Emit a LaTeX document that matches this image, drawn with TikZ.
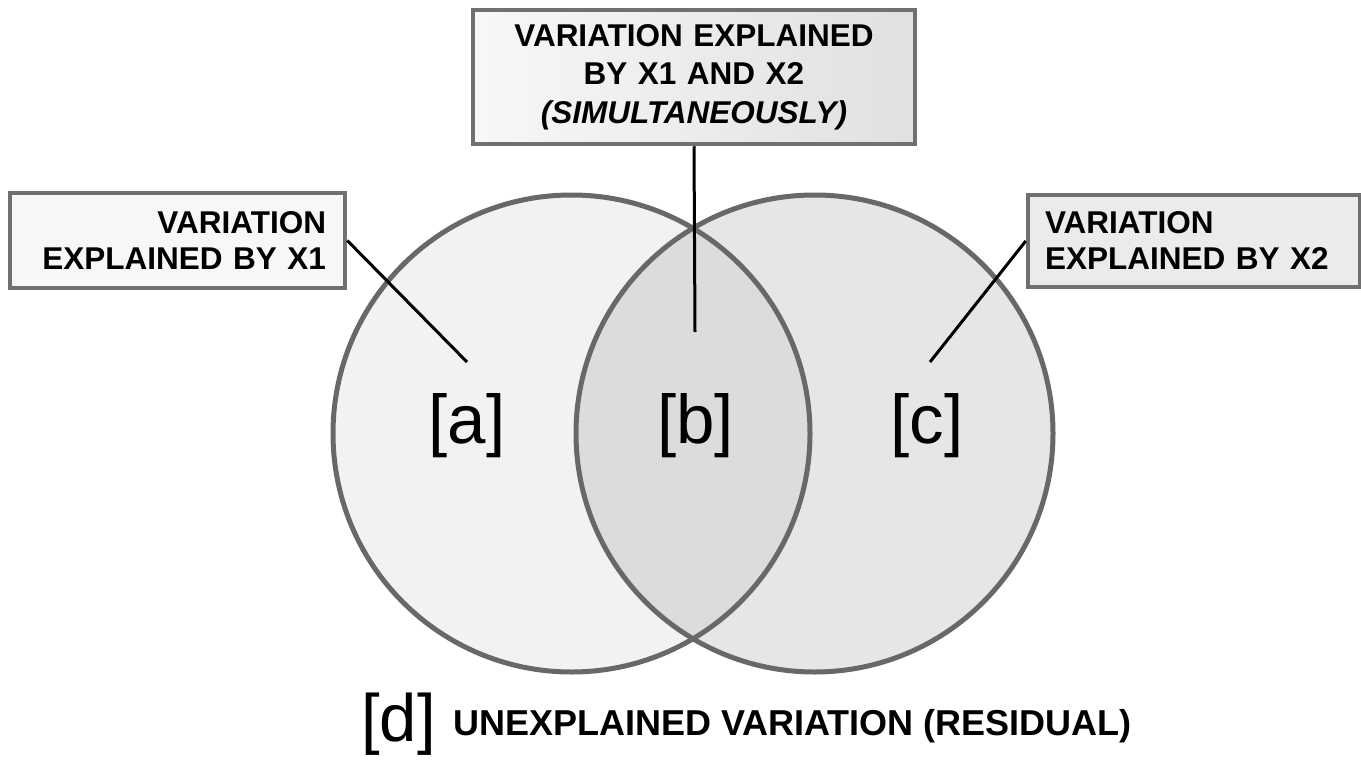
\documentclass[tikz,border=0pt]{standalone}
\usepackage{fontspec}
\setmainfont{Liberation Sans}
\definecolor{ringgray}{HTML}{686868}
\definecolor{fillA}{HTML}{F2F2F2}
\definecolor{fillB}{HTML}{DCDCDC}
\definecolor{fillC}{HTML}{E6E6E6}
\definecolor{boxline}{HTML}{707070}
\begin{document}
\begin{tikzpicture}[line cap=round,line join=round,x=1pt,y=-1pt,
  ring/.style={draw=ringgray,line width=5pt},
  varbox/.style={draw=boxline,line width=4.5pt,line join=miter,inner ysep=0pt,
    font=\fontsize{31.5}{36}\selectfont\bfseries},
  letter/.style={anchor=base,inner sep=0pt,font=\fontsize{69}{80}\selectfont},
  pointer/.style={line width=3pt,line cap=butt}]
\useasboundingbox (0,0) rectangle (1361,760);
% the two sets
\coordinate (x1) at (571.5,433.5);
\coordinate (x2) at (814.5,433.5);
\fill[fillA] (x1) circle (238.5);
\fill[fillC] (x2) circle (238.5);
\begin{scope}
\clip (x1) circle (238.5);
\fill[fillB] (x2) circle (238.5);
\end{scope}
\draw[ring] (x1) circle (238.5);
\draw[ring] (x2) circle (238.5);
% pointer ends
\coordinate (aend) at (467,362);
\coordinate (bend) at (695,332);
\coordinate (cend) at (930,362);
% boxes
\node[varbox,fill=white!97!black,minimum width=335pt,minimum height=95pt,
  inner xsep=19pt,text width=297pt,align=right] (boxa) at (177.5,240.5)
  {VARIATION\\EXPLAINED BY X1};
\node[varbox,left color=white!97!black,right color=white!88!black,
  minimum width=442pt,minimum height=134pt,inner xsep=15pt,text width=412pt,
  align=center,font=\fontsize{31.5}{38.5}\selectfont\bfseries] (boxb) at (694,77)
  {VARIATION EXPLAINED\\BY X1 AND X2\\\textit{(SIMULTANEOUSLY)}};
\node[varbox,fill=white!92!black,minimum width=332pt,minimum height=92pt,
  inner xsep=17pt,text width=298pt,align=left] (boxc) at (1194,241)
  {VARIATION\\EXPLAINED BY X2};
\draw[pointer] (boxa.east) -- (aend);
\draw[pointer] (boxb.south) -- (bend);
\draw[pointer] (boxc.west) -- (cend);
% region letters
\node[letter] (la) at (467,443.5) {[a]};
\node[letter] (lb) at (695.5,443.5) {[b]};
\node[letter] (lc) at (927,443.5) {[c]};
\node[letter,font=\fontsize{67}{80}\selectfont] (ld) at (398.5,741) {[d]};
\node[anchor=base west,inner sep=0pt,font=\fontsize{36}{40}\selectfont\bfseries] (resid)
  at (453,735) {UNEXPLAINED VARIATION (RESIDUAL)};
\end{tikzpicture}
\end{document}
